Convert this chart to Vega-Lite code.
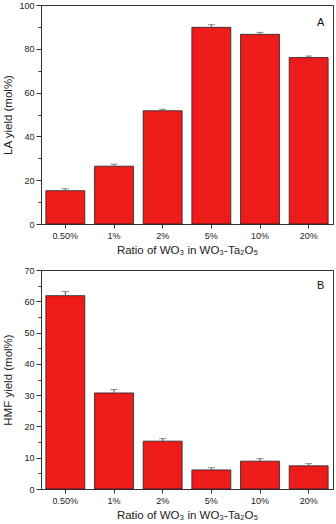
{
  "$schema": "https://vega.github.io/schema/vega-lite/v6.json",
  "padding": {"left": 1, "top": 0, "right": 5, "bottom": 0},
  "spacing": 46,
  "bounds": "flush",
  "config": {
    "font": "Liberation Sans",
    "view": {"stroke": "#333", "strokeWidth": 1},
    "axis": {
      "domainColor": "#333",
      "tickColor": "#333",
      "labelColor": "#222",
      "titleColor": "#222",
      "labelFontSize": 9,
      "titleFontSize": 11.5,
      "titleFontWeight": "normal",
      "labelOverlap": false,
      "grid": false
    }
  },
  "datasets": {
    "la": [
      {"ratio": "0.50%", "yield": 15.2, "upper": 16.1},
      {"ratio": "1%", "yield": 26.4, "upper": 27.3},
      {"ratio": "2%", "yield": 51.7, "upper": 52.4},
      {"ratio": "5%", "yield": 89.8, "upper": 91.0},
      {"ratio": "10%", "yield": 86.6, "upper": 87.5},
      {"ratio": "20%", "yield": 76.0, "upper": 76.7}
    ],
    "hmf": [
      {"ratio": "0.50%", "yield": 61.8, "upper": 63.1},
      {"ratio": "1%", "yield": 30.7, "upper": 31.8},
      {"ratio": "2%", "yield": 15.3, "upper": 16.1},
      {"ratio": "5%", "yield": 6.1, "upper": 6.8},
      {"ratio": "10%", "yield": 8.9, "upper": 9.7},
      {"ratio": "20%", "yield": 7.4, "upper": 8.1}
    ]
  },
  "vconcat": [
    {
      "width": 292,
      "height": 219,
      "data": {"name": "la"},
      "encoding": {
        "x": {
          "field": "ratio", "type": "nominal", "sort": null,
          "scale": {"paddingInner": 0.2, "paddingOuter": 0.1},
          "axis": {"labelAngle": 0, "tickSize": 4, "labelPadding": 3, "titlePadding": 4, "title": "Ratio of WO₃ in WO₃-Ta₂O₅"}
        }
      },
      "layer": [
        {
          "mark": {"type": "bar", "color": "#ee1b1b", "stroke": "#222", "strokeWidth": 0.8},
          "encoding": {
            "y": {
              "field": "yield", "type": "quantitative",
              "scale": {"domain": [0, 100], "nice": false},
              "axis": {
                "title": "LA yield (mol%)",
                "values": [0, 10, 20, 30, 40, 50, 60, 70, 80, 90, 100],
                "labelExpr": "datum.value % 20 == 0 ? datum.label : ''",
                "tickSize": {"condition": {"test": "datum.value % 20 == 0", "value": 5}, "value": 3},
                "labelPadding": 2,
                "labelOverlap": false,
                "titleX": -28
              }
            }
          }
        },
        {
          "mark": {"type": "rule", "color": "#555", "strokeWidth": 1},
          "encoding": {
            "y": {
              "field": "yield", "type": "quantitative",
              "axis": {
                "title": "LA yield (mol%)",
                "values": [0, 10, 20, 30, 40, 50, 60, 70, 80, 90, 100],
                "labelExpr": "datum.value % 20 == 0 ? datum.label : ''",
                "tickSize": {"condition": {"test": "datum.value % 20 == 0", "value": 5}, "value": 3},
                "labelPadding": 2,
                "labelOverlap": false,
                "titleX": -28
              }
            },
            "y2": {"field": "upper"}
          }
        },
        {
          "mark": {"type": "tick", "color": "#555", "size": 7, "thickness": 1},
          "encoding": {
            "y": {
              "field": "upper", "type": "quantitative",
              "axis": {
                "title": "LA yield (mol%)",
                "values": [0, 10, 20, 30, 40, 50, 60, 70, 80, 90, 100],
                "labelExpr": "datum.value % 20 == 0 ? datum.label : ''",
                "tickSize": {"condition": {"test": "datum.value % 20 == 0", "value": 5}, "value": 3},
                "labelPadding": 2,
                "labelOverlap": false,
                "titleX": -28
              }
            }
          }
        },
        {
          "data": {"values": [{"label": "A", "ratio": "20%", "pos": 92}]},
          "mark": {"type": "text", "fontSize": 11, "color": "#111", "dx": 12},
          "encoding": {
            "y": {
              "field": "pos", "type": "quantitative",
              "axis": {
                "title": "LA yield (mol%)",
                "values": [0, 10, 20, 30, 40, 50, 60, 70, 80, 90, 100],
                "labelExpr": "datum.value % 20 == 0 ? datum.label : ''",
                "tickSize": {"condition": {"test": "datum.value % 20 == 0", "value": 5}, "value": 3},
                "labelPadding": 2,
                "labelOverlap": false,
                "titleX": -28
              }
            },
            "text": {"field": "label"}
          }
        }
      ]
    },
    {
      "width": 292,
      "height": 219,
      "data": {"name": "hmf"},
      "encoding": {
        "x": {
          "field": "ratio", "type": "nominal", "sort": null,
          "scale": {"paddingInner": 0.2, "paddingOuter": 0.1},
          "axis": {"labelAngle": 0, "tickSize": 4, "labelPadding": 3, "titlePadding": 4, "title": "Ratio of WO₃ in WO₃-Ta₂O₅"}
        }
      },
      "layer": [
        {
          "mark": {"type": "bar", "color": "#ee1b1b", "stroke": "#222", "strokeWidth": 0.8},
          "encoding": {
            "y": {
              "field": "yield", "type": "quantitative",
              "scale": {"domain": [0, 70], "nice": false},
              "axis": {
                "title": "HMF yield (mol%)",
                "values": [0, 5, 10, 15, 20, 25, 30, 35, 40, 45, 50, 55, 60, 65, 70],
                "labelExpr": "datum.value % 10 == 0 ? datum.label : ''",
                "tickSize": {"condition": {"test": "datum.value % 10 == 0", "value": 5}, "value": 3},
                "labelPadding": 2,
                "labelOverlap": false,
                "titleX": -28
              }
            }
          }
        },
        {
          "mark": {"type": "rule", "color": "#555", "strokeWidth": 1},
          "encoding": {
            "y": {
              "field": "yield", "type": "quantitative",
              "axis": {
                "title": "HMF yield (mol%)",
                "values": [0, 5, 10, 15, 20, 25, 30, 35, 40, 45, 50, 55, 60, 65, 70],
                "labelExpr": "datum.value % 10 == 0 ? datum.label : ''",
                "tickSize": {"condition": {"test": "datum.value % 10 == 0", "value": 5}, "value": 3},
                "labelPadding": 2,
                "labelOverlap": false,
                "titleX": -28
              }
            },
            "y2": {"field": "upper"}
          }
        },
        {
          "mark": {"type": "tick", "color": "#555", "size": 7, "thickness": 1},
          "encoding": {
            "y": {
              "field": "upper", "type": "quantitative",
              "axis": {
                "title": "HMF yield (mol%)",
                "values": [0, 5, 10, 15, 20, 25, 30, 35, 40, 45, 50, 55, 60, 65, 70],
                "labelExpr": "datum.value % 10 == 0 ? datum.label : ''",
                "tickSize": {"condition": {"test": "datum.value % 10 == 0", "value": 5}, "value": 3},
                "labelPadding": 2,
                "labelOverlap": false,
                "titleX": -28
              }
            }
          }
        },
        {
          "data": {"values": [{"label": "B", "ratio": "20%", "pos": 65}]},
          "mark": {"type": "text", "fontSize": 11, "color": "#111", "dx": 12},
          "encoding": {
            "y": {
              "field": "pos", "type": "quantitative",
              "axis": {
                "title": "HMF yield (mol%)",
                "values": [0, 5, 10, 15, 20, 25, 30, 35, 40, 45, 50, 55, 60, 65, 70],
                "labelExpr": "datum.value % 10 == 0 ? datum.label : ''",
                "tickSize": {"condition": {"test": "datum.value % 10 == 0", "value": 5}, "value": 3},
                "labelPadding": 2,
                "labelOverlap": false,
                "titleX": -28
              }
            },
            "text": {"field": "label"}
          }
        }
      ]
    }
  ]
}
